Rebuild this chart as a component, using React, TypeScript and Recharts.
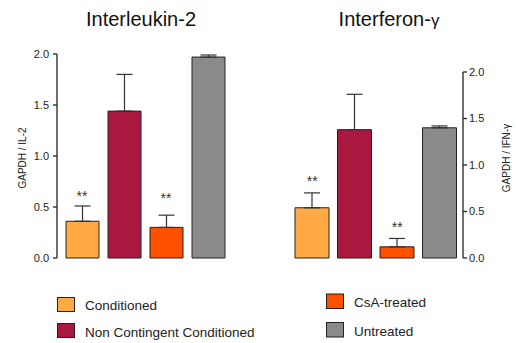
import React from "react";
import {
  ComposedChart,
  Bar,
  Cell,
  ErrorBar,
  Line,
  LabelList,
  XAxis,
  YAxis,
} from "recharts";

const groups = ["Conditioned", "Non Contingent Conditioned", "CsA-treated", "Untreated"];
const colors = ["#FFAA44", "#A9193F", "#FF5000", "#8A8A8A"];
const stars = ["**", "", "**", ""];

const il2Mean = [0.36, 1.44, 0.3, 1.97];
const il2Sem = [0.15, 0.36, 0.12, 0.02];
const il2StarAt = [0.56, null, 0.54, null];

const ifnMean = [0.54, 1.38, 0.12, 1.4];
const ifnSem = [0.16, 0.38, 0.09, 0.02];
const ifnStarAt = [0.77, null, 0.28, null];

const yTicks = [0, 0.5, 1, 1.5, 2];

const FONT = "'Liberation Sans', Arial, Helvetica, sans-serif";
const INK = "#222";

function build(mean: number[], sem: number[], starAt: (number | null)[]) {
  return groups.map((g, i) => ({
    group: g,
    value: mean[i],
    err: [0, sem[i]],
    starAt: starAt[i],
    sig: stars[i],
  }));
}

const il2Data = build(il2Mean, il2Sem, il2StarAt);
const ifnData = build(ifnMean, ifnSem, ifnStarAt);

const starLabel = (p: any) => {
  const x = p.x ?? p.viewBox?.x;
  const y = p.y ?? p.viewBox?.y;
  if (!p.value || y == null) return null;
  return (
    <text x={x} y={y} textAnchor="middle" fontSize={14} fill="#333" fontFamily={FONT}>
      {p.value}
    </text>
  );
};

interface PanelProps {
  data: any[];
  side: "left" | "right";
  width: number;
  height: number;
  margin: { top: number; right: number; bottom: number; left: number };
  axisWidth: number;
  barSize: number;
}

function Panel({ data, side, width, height, margin, axisWidth, barSize }: PanelProps) {
  return (
    <ComposedChart width={width} height={height} data={data} margin={margin}>
      <XAxis
        dataKey="group"
        height={0}
        tick={false}
        tickLine={false}
        padding={{ left: 4, right: 2 }}
        axisLine={{ stroke: INK, strokeWidth: 1.3 }}
      />
      <YAxis
        orientation={side}
        width={axisWidth}
        domain={[0, 2]}
        ticks={yTicks}
        interval={0}
        tickFormatter={(v: number) => v.toFixed(1)}
        tickSize={4}
        tickMargin={side === "left" ? 4 : 2}
        axisLine={{ stroke: INK, strokeWidth: 1.3 }}
        tickLine={{ stroke: INK, strokeWidth: 1.3 }}
        tick={{ fill: INK, fontSize: 11, fontFamily: FONT }}
      />
      <Bar dataKey="value" barSize={barSize} stroke={INK} strokeWidth={1} isAnimationActive={false}>
        {data.map((d, i) => (
          <Cell key={d.group} fill={colors[i]} />
        ))}
        <ErrorBar dataKey="err" width={8} stroke="#333" strokeWidth={1.2} />
      </Bar>
      <Line
        dataKey="starAt"
        stroke="none"
        dot={false}
        activeDot={false}
        isAnimationActive={false}
      >
        <LabelList dataKey="sig" content={starLabel} />
      </Line>
    </ComposedChart>
  );
}

export default function App() {
  const legendLeft = [0, 1];
  const legendRight = [2, 3];
  return (
    <div style={{ position: "absolute", left: 0, top: 0, width: 516, height: 343, background: "#fff" }}>
      <div style={{ position: "absolute", left: 0, top: 0 }}>
        <Panel
          data={il2Data}
          side="left"
          width={240}
          height={270}
          margin={{ top: 54, right: 9, bottom: 12, left: 0 }}
          axisWidth={57}
          barSize={33}
        />
      </div>
      <div style={{ position: "absolute", left: 260, top: 0 }}>
        <Panel
          data={ifnData}
          side="right"
          width={256}
          height={270}
          margin={{ top: 72, right: 0, bottom: 12, left: 27 }}
          axisWidth={53}
          barSize={34}
        />
      </div>
      <svg
        width={516}
        height={343}
        style={{ position: "absolute", left: 0, top: 0, pointerEvents: "none" }}
        fontFamily={FONT}
      >
        <text x={141} y={26} fontSize={20} textAnchor="middle" fill="#111">
          Interleukin-2
        </text>
        <text x={389} y={26} fontSize={20} textAnchor="middle" fill="#111">
          Interferon-<tspan fontSize={17}>γ</tspan>
        </text>
        <text transform="translate(26,158) rotate(-90)" fontSize={10} textAnchor="middle" fill={INK}>
          GAPDH / IL-2
        </text>
        <text transform="translate(509.5,158) rotate(-90)" fontSize={10} textAnchor="middle" fill={INK}>
          GAPDH / IFN-γ
        </text>
        {legendLeft.map((i, k) => (
          <g key={groups[i]}>
            <rect x={57.5} y={297.5 + k * 26} width={17} height={14} fill={colors[i]} stroke={INK} strokeWidth={1} />
            <text x={85} y={310 + k * 26.5} fontSize={13.5} fill={INK}>
              {groups[i]}
            </text>
          </g>
        ))}
        {legendRight.map((i, k) => (
          <g key={groups[i]}>
            <rect x={326.5} y={294 + k * 28.5} width={17} height={14.5} fill={colors[i]} stroke={INK} strokeWidth={1} />
            <text x={354} y={307 + k * 29} fontSize={13.5} fill={INK}>
              {groups[i]}
            </text>
          </g>
        ))}
      </svg>
    </div>
  );
}
